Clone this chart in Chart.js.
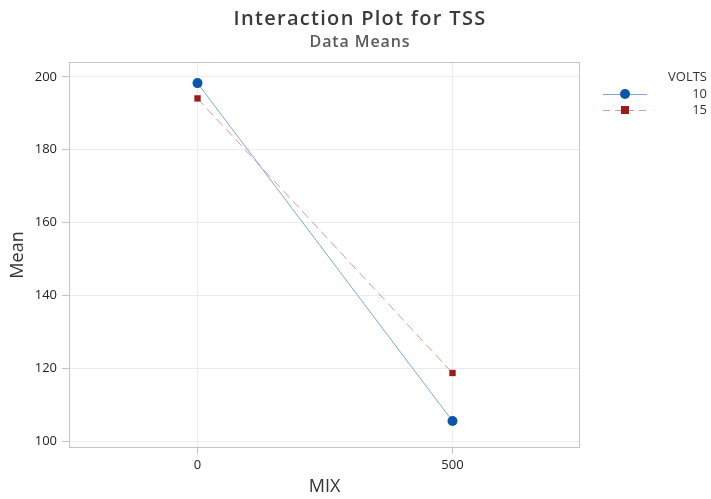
<!DOCTYPE html>
<html>
<head>
<meta charset="utf-8">
<script src="https://cdn.jsdelivr.net/npm/chart.js@4.4.1/dist/chart.umd.min.js"></script>
<style>
  html, body { margin: 0; padding: 0; background: #fff; }
  #wrap { width: 711px; height: 499px; position: relative; }
</style>
</head>
<body>
<div id="wrap"><canvas id="c" width="711" height="499"></canvas></div>
<script>
// Interaction plot: mean TSS by MIX level for each VOLTS setting
const mixLevels = [0, 500];
const voltsLevels = ['10', '15'];
const means10 = [198.3, 105.5];
const means15 = [194.1, 118.7];
const yTicks = [100, 120, 140, 160, 180, 200];
const xTicks = [0, 500];

const FONT = "'Open Sans', 'Noto Sans', sans-serif";

const seriesStyle = [
  { line: '#7da7d9', point: '#0b56a8', shape: 'circle', radius: 5, dash: [] },
  { line: '#d99a9a', point: '#9b1b1b', shape: 'rect', radius: 4.5, dash: [9, 5] }
];

const seriesValues = [means10, means15];

const datasets = voltsLevels.map((v, i) => ({
  label: v,
  data: mixLevels.map((m, j) => ({ x: m, y: seriesValues[i][j] })),
  borderColor: seriesStyle[i].line,
  borderWidth: 1,
  borderDash: seriesStyle[i].dash,
  pointStyle: seriesStyle[i].shape,
  pointRadius: seriesStyle[i].radius,
  pointBackgroundColor: seriesStyle[i].point,
  pointBorderColor: seriesStyle[i].point,
  pointBorderWidth: 0,
  tension: 0,
  fill: false
}));

// Titles, plot frame and the VOLTS legend
const decorations = {
  id: 'decorations',
  afterDraw(chart) {
    const ctx = chart.ctx;
    const a = chart.chartArea;
    ctx.save();
    // frame around the plot area
    ctx.strokeStyle = '#c4c4c4';
    ctx.lineWidth = 1;
    ctx.strokeRect(a.left + 0.5, a.top + 0.5, a.right - a.left - 1, a.bottom - a.top - 1);

    // titles
    ctx.textAlign = 'center';
    ctx.textBaseline = 'middle';
    ctx.fillStyle = '#3a3a3a';
    ctx.font = `600 20px ${FONT}`;
    if ('letterSpacing' in ctx) ctx.letterSpacing = '1.3px';
    ctx.fillText('Interaction Plot for TSS', 360, 19);
    ctx.fillStyle = '#5a5a5a';
    ctx.font = `600 16px ${FONT}`;
    if ('letterSpacing' in ctx) ctx.letterSpacing = '0.9px';
    ctx.fillText('Data Means', 360, 42);
    if ('letterSpacing' in ctx) ctx.letterSpacing = '0px';

    // legend
    ctx.textAlign = 'right';
    ctx.fillStyle = '#333';
    ctx.font = `500 13px ${FONT}`;
    ctx.fillText('VOLTS', 707, 77);
    chart.data.datasets.forEach((ds, i) => {
      const y = 94 + i * 16;
      ctx.strokeStyle = ds.borderColor;
      ctx.lineWidth = 1;
      ctx.setLineDash(i === 0 ? [] : [7, 5]);
      ctx.beginPath();
      ctx.moveTo(603, y + 0.5);
      ctx.lineTo(647, y + 0.5);
      ctx.stroke();
      ctx.setLineDash([]);
      ctx.fillStyle = ds.pointBackgroundColor;
      if (ds.pointStyle === 'circle') {
        ctx.beginPath();
        ctx.arc(625, y, 5, 0, Math.PI * 2);
        ctx.fill();
      } else {
        ctx.fillRect(621, y - 4, 8, 8);
      }
      ctx.fillStyle = '#333';
      ctx.fillText(ds.label, 707, y);
    });
    ctx.restore();
  }
};

new Chart(document.getElementById('c'), {
  type: 'line',
  data: { datasets },
  options: {
    responsive: false,
    animation: false,
    layout: { padding: { left: 0, top: 62, right: 131, bottom: 0 } },
    plugins: { legend: { display: false }, title: { display: false }, tooltip: { enabled: false } },
    scales: {
      x: {
        type: 'linear',
        min: -252,
        max: 750,
        afterBuildTicks(scale) { scale.ticks = xTicks.map(v => ({ value: v })); },
        afterFit(scale) { scale.height = 51; },
        grid: { color: '#ececec', tickColor: '#c4c4c4', tickLength: 6, drawTicks: true },
        border: { display: false },
        ticks: { color: '#222', font: { family: FONT, size: 13 }, padding: 3 },
        title: { display: true, text: 'MIX', color: '#333', font: { family: FONT, size: 18, weight: '500' }, padding: { top: 4, bottom: 1 } }
      },
      y: {
        type: 'linear',
        min: 98.1,
        max: 204.1,
        afterBuildTicks(scale) { scale.ticks = yTicks.map(v => ({ value: v })); },
        afterFit(scale) { scale.width = 69; },
        grid: { color: '#ececec', tickColor: '#c4c4c4', tickLength: 7, drawTicks: true },
        border: { display: false },
        ticks: { color: '#222', font: { family: FONT, size: 13 }, padding: 5 },
        title: { display: true, text: 'Mean', color: '#333', font: { family: FONT, size: 18, weight: '500' }, padding: { top: 7, bottom: 0 } }
      }
    }
  },
  plugins: [decorations]
});
</script>
</body>
</html>
